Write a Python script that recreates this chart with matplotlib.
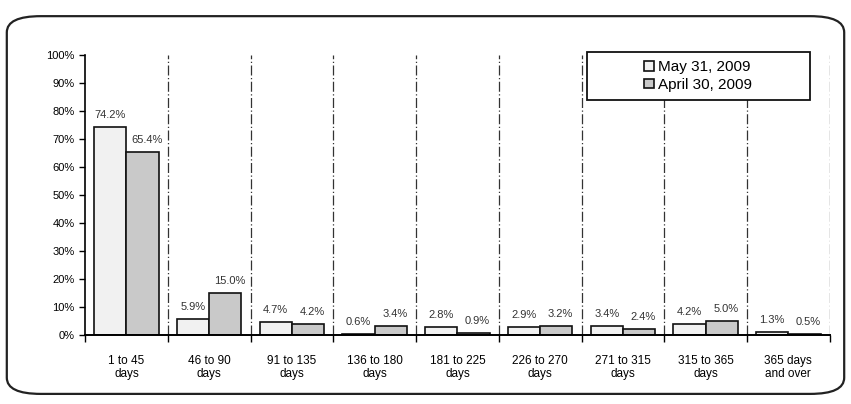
import numpy as np
import matplotlib.pyplot as plt
from matplotlib.patches import FancyBboxPatch, Rectangle

categories = ["1 to 45\ndays", "46 to 90\ndays", "91 to 135\ndays", "136 to 180\ndays",
              "181 to 225\ndays", "226 to 270\ndays", "271 to 315\ndays", "315 to 365\ndays",
              "365 days\nand over"]
may_2009 = [74.2, 5.9, 4.7, 0.6, 2.8, 2.9, 3.4, 4.2, 1.3]
april_2009 = [65.4, 15.0, 4.2, 3.4, 0.9, 3.2, 2.4, 5.0, 0.5]
series_names = ["May 31, 2009", "April 30, 2009"]

fig = plt.figure(figsize=(8.51, 4.04), dpi=100)
plt.rcParams['font.family'] = ['Liberation Sans', 'DejaVu Sans']

# rounded frame around the chart
frame = FancyBboxPatch((0.008, 0.025), 0.984, 0.935, boxstyle="round,pad=0,rounding_size=0.04",
                       transform=fig.transFigure, fill=False, edgecolor='#222222', linewidth=1.6)
fig.patches.append(frame)

ax = fig.add_axes([0.1, 0.17, 0.875, 0.694])
x = np.arange(len(categories))
w = 0.39
b1 = ax.bar(x - w / 2, may_2009, w, color='#f1f1f1', edgecolor='#111111', linewidth=1.2,
            label=series_names[0])
b2 = ax.bar(x + w / 2, april_2009, w, color='#c9c9c9', edgecolor='#111111', linewidth=1.2,
            label=series_names[1])

for i in range(len(x)):
    ax.text(x[i] - w / 2, may_2009[i] + 2.5, "%.1f%%" % may_2009[i], ha='center', va='bottom',
            fontsize=8, color='#333333')
    ax.text(x[i] + w / 2 + 0.05, april_2009[i] + 2.5, "%.1f%%" % april_2009[i], ha='center',
            va='bottom', fontsize=8, color='#333333')

for i in range(1, len(x) + 1):
    ax.axvline(i - 0.5, ymin=0, ymax=1, color='#333333', linestyle=(0, (8, 2, 1, 2)), linewidth=0.9)

ax.set_xlim(-0.5, len(x) - 0.5)
ax.set_ylim(0, 100)
ax.set_yticks(range(0, 101, 10))
ax.set_yticklabels(["%d%%" % v for v in range(0, 101, 10)], fontsize=8)
ax.set_xticks(x)
ax.set_xticklabels(categories, fontsize=8.5, linespacing=1.1)
ax.tick_params(axis='x', length=0, pad=14)
ax.tick_params(axis='y', length=4, width=1, direction='out')
ax.set_xticks(np.arange(-0.5, len(x), 1), minor=True)
ax.tick_params(axis='x', which='minor', length=5, width=1)
ax.spines['top'].set_visible(False)
ax.spines['right'].set_visible(False)
ax.spines['left'].set_linewidth(1.2)
ax.spines['bottom'].set_linewidth(1.4)

# legend box drawn by hand, entries centred inside it
box = Rectangle((0.674, 0.839), 0.299, 0.172, transform=ax.transAxes, facecolor='white',
                edgecolor='#111111', linewidth=1.3, zorder=4, clip_on=False)
ax.add_patch(box)
leg = ax.legend(loc='center', bbox_to_anchor=(0.674 + 0.299 / 2, 0.839 + 0.172 / 2), fontsize=11,
                frameon=False, handlelength=0.6, handleheight=0.6, handletextpad=0.3,
                labelspacing=0.25, borderaxespad=0)
leg.set_zorder(5)

plt.savefig("out.png", dpi=100)
